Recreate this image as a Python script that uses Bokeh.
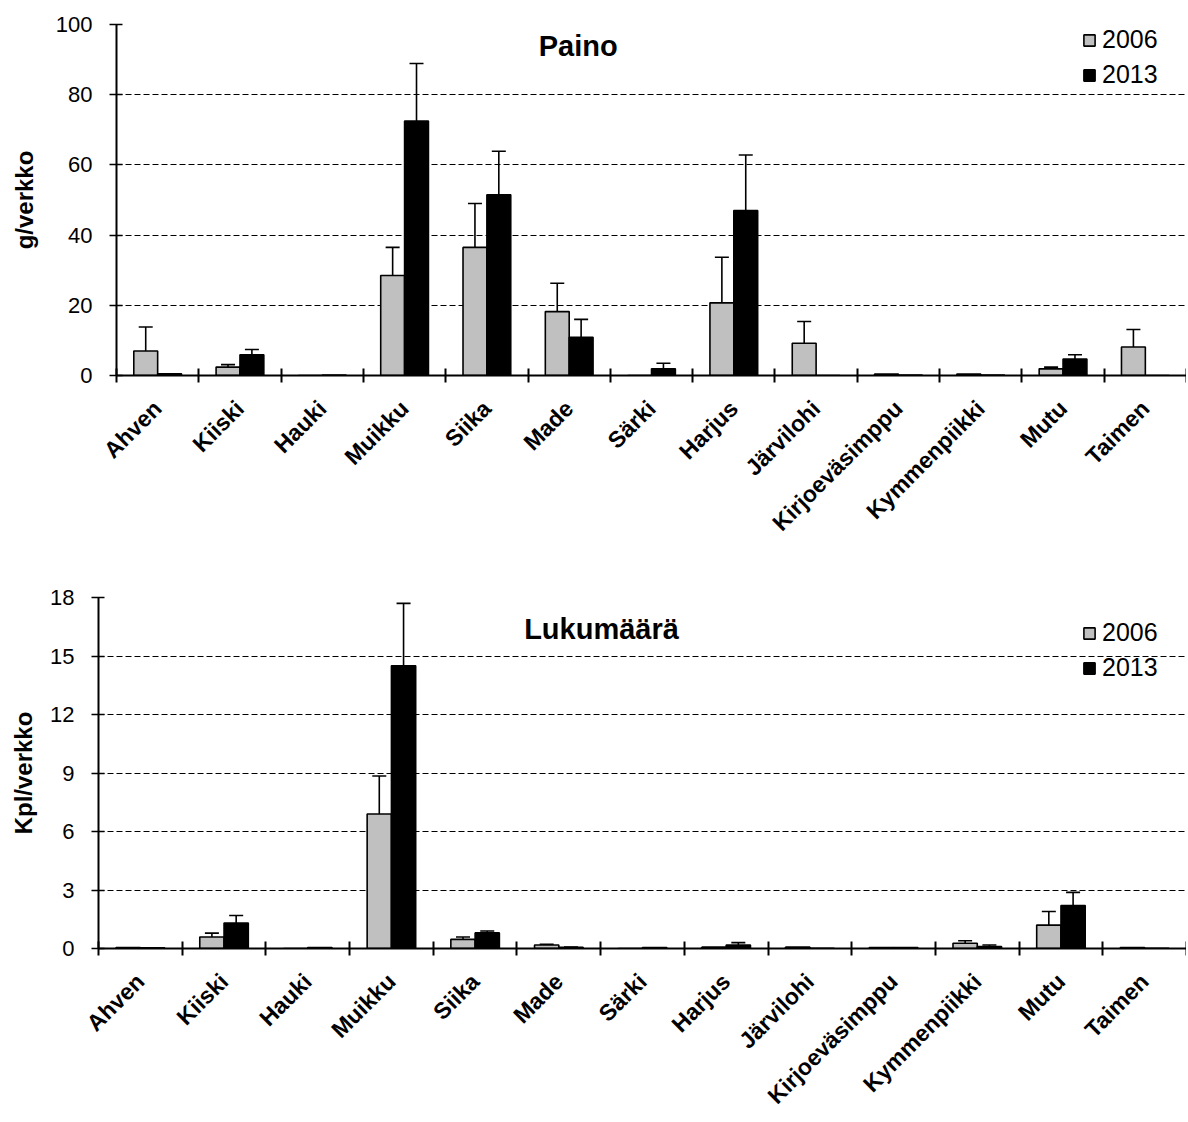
import math
from bokeh.plotting import figure
from bokeh.models import (FactorRange, Range1d, LinearAxis, FixedTicker, CustomLabelingPolicy,
                          ColumnDataSource, Whisker, TeeHead, Legend, LegendItem, Label)
from bokeh.transform import dodge
from bokeh.embed import file_html
from bokeh.resources import INLINE

species = ["Ahven", "Kiiski", "Hauki", "Muikku", "Siika", "Made", "Särki", "Harjus",
           "Järvilohi", "Kirjoeväsimppu", "Kymmenpiikki", "Mutu", "Taimen"]

# Paino (g/verkko)
paino_2006 = [7.0, 2.4, 0.0, 28.5, 36.5, 18.2, 0.0, 20.7, 9.2, 0.4, 0.4, 1.9, 8.1]
paino_2006_err = [6.8, 0.7, 0.0, 8.0, 12.5, 8.1, 0.0, 13.0, 6.2, 0.0, 0.0, 0.5, 5.0]
paino_2013 = [0.5, 5.9, 0.1, 72.5, 51.5, 10.9, 1.9, 47.0, 0.0, 0.1, 0.1, 4.7, 0.0]
paino_2013_err = [0.0, 1.5, 0.0, 16.4, 12.4, 5.1, 1.6, 15.8, 0.0, 0.0, 0.0, 1.2, 0.0]

# Lukumäärä (Kpl/verkko)
luku_2006 = [0.05, 0.59, 0.0, 6.9, 0.47, 0.18, 0.0, 0.07, 0.07, 0.05, 0.27, 1.2, 0.05]
luku_2006_err = [0.0, 0.2, 0.0, 1.95, 0.12, 0.03, 0.0, 0.0, 0.0, 0.0, 0.13, 0.7, 0.0]
luku_2013 = [0.04, 1.31, 0.05, 14.5, 0.8, 0.06, 0.05, 0.18, 0.01, 0.05, 0.1, 2.2, 0.01]
luku_2013_err = [0.0, 0.38, 0.0, 3.2, 0.1, 0.02, 0.0, 0.12, 0.0, 0.0, 0.08, 0.68, 0.0]

FONT = "Liberation Sans"
GRAY = "#C0C0C0"


def make_chart(title, ylabel, v06, e06, v13, e13, ymax, ystep, height, b_top, b_left,
               b_bottom, ylabel_standoff, title_xy, legend_loc):
    p = figure(x_range=FactorRange(*species), y_range=Range1d(0, ymax),
               width=1186, height=height, output_backend="svg", toolbar_location=None,
               x_axis_location=None, min_border_top=b_top, min_border_left=b_left,
               min_border_right=0, min_border_bottom=b_bottom)
    p.outline_line_color = None
    p.background_fill_color = "white"
    for g in p.xgrid:
        g.visible = False

    src = ColumnDataSource(dict(cat=species, v06=v06, v13=v13))
    r06 = p.vbar(x=dodge("cat", -0.145, range=p.x_range), top="v06", width=0.29, source=src,
                 fill_color=GRAY, line_color="black", line_width=1.6)
    r13 = p.vbar(x=dodge("cat", 0.145, range=p.x_range), top="v13", width=0.29, source=src,
                 fill_color="black", line_color="black", line_width=1.6)

    for vals, errs, off in ((v06, e06, -0.145), (v13, e13, 0.145)):
        cats = [c for c, e in zip(species, errs) if e > 0]
        lo = [v for v, e in zip(vals, errs) if e > 0]
        up = [v + e for v, e in zip(vals, errs) if e > 0]
        ws = ColumnDataSource(dict(cat=cats, lo=lo, up=up))
        w = Whisker(base=dodge("cat", off, range=p.x_range), lower="lo", upper="up", source=ws,
                    line_color="black", line_width=1.6,
                    upper_head=TeeHead(size=14, line_width=1.6, line_color="black"),
                    lower_head=None)
        p.add_layout(w)

    # y axis
    yax = p.yaxis[0]
    yax.ticker = FixedTicker(ticks=list(range(0, ymax + 1, ystep)))
    yax.minor_tick_line_color = None
    yax.major_tick_in = 6
    yax.major_tick_out = 7
    yax.major_tick_line_width = 1.6
    yax.axis_line_width = 2
    yax.major_label_text_font = FONT
    yax.major_label_text_font_size = "22px"
    yax.major_label_text_color = "black"
    yax.major_label_standoff = 17
    yax.axis_label = ylabel
    yax.axis_label_text_font = FONT
    yax.axis_label_text_font_size = "24px"
    yax.axis_label_text_font_style = "bold"
    yax.axis_label_text_color = "black"
    yax.axis_label_standoff = ylabel_standoff
    p.ygrid.grid_line_color = "black"
    p.ygrid.grid_line_dash = "6 3"
    p.ygrid.grid_line_width = 1

    n = len(species)
    centres = [i + 0.5 for i in range(n)]
    edges = list(range(n + 1))
    # x axis line with ticks at the category boundaries (no labels)
    tax = LinearAxis(ticker=FixedTicker(ticks=edges),
                     major_label_policy=CustomLabelingPolicy(code="return []"),
                     major_label_text_font_size="1px", major_label_standoff=0,
                     major_tick_in=7, major_tick_out=7, major_tick_line_width=2,
                     major_tick_line_color="black", minor_tick_line_color=None,
                     axis_line_width=2, axis_line_color="black")
    p.add_layout(tax, "below")
    # category labels at the category centres
    lax = LinearAxis(ticker=FixedTicker(ticks=centres),
                     major_label_overrides={c: s for c, s in zip(centres, species)},
                     major_tick_line_color=None, major_tick_out=0, major_tick_in=0,
                     minor_tick_line_color=None, axis_line_color=None,
                     major_label_orientation=math.pi / 4,
                     major_label_text_font=FONT, major_label_text_font_size="23px",
                     major_label_text_font_style="bold", major_label_text_color="black",
                     major_label_standoff=18)
    p.add_layout(lax, "below")

    p.add_layout(Label(x=title_xy[0], y=title_xy[1], text=title, text_font=FONT,
                       text_font_size="29px", text_font_style="bold", text_color="black",
                       text_align="center", text_baseline="middle"))

    legend = Legend(items=[LegendItem(label="2006", renderers=[r06]),
                           LegendItem(label="2013", renderers=[r13])],
                    location=legend_loc, padding=0, margin=0, spacing=6,
                    glyph_width=14, glyph_height=14, label_standoff=6,
                    label_text_font=FONT, label_text_font_size="25px", label_height=26,
                    label_text_color="black", label_text_baseline="middle",
                    border_line_color=None, background_fill_alpha=0)
    p.add_layout(legend)
    return p


p1 = make_chart("Paino", "g/verkko", paino_2006, paino_2006_err, paino_2013, paino_2013_err,
                100, 20, 564, 24, 116, 189, 15, (5.61, 94.0), (966, 286))
p2 = make_chart("Lukumäärä", "Kpl/verkko", luku_2006, luku_2006_err, luku_2013, luku_2013_err,
                18, 3, 556, 33, 98, 172, 10, (6.01, 16.4), (984, 266))

open("out.html", "w").write(file_html([p1, p2], INLINE))
